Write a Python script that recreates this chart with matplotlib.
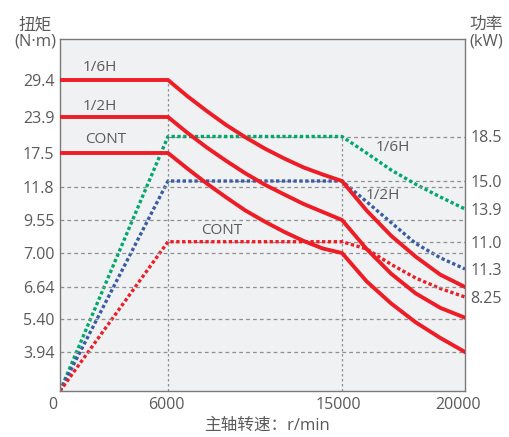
import matplotlib
matplotlib.use('Agg')
import matplotlib.pyplot as plt
import matplotlib.transforms as mtransforms
import numpy as np

# 字体: 西文用 Open Sans, 中文回落到 Noto Sans CJK SC
plt.rcParams['font.family'] = ['Open Sans', 'Noto Sans CJK SC', 'DejaVu Sans']

# ---------------- 数据 ----------------
speed_ticks = [0, 6000, 15000, 20000]
torque_ticks = [3.94, 5.40, 6.64, 7.00, 9.55, 11.8, 17.5, 23.9, 29.4]
torque_tick_labels = ['3.94', '5.40', '6.64', '7.00', '9.55', '11.8', '17.5', '23.9', '29.4']
power_tick_labels = ['18.5', '15.0', '13.9', '11.0', '11.3', '8.25']

# 扭矩曲线 (r/min, N·m)
speed = [0, 6000, 7000, 8000, 9000, 10000, 11000, 12000, 13000, 14000, 15000,
         16000, 17000, 18000, 19000, 20000]
torque_16h = [29.4, 29.4, 27.0, 24.8, 22.5, 20.3, 18.3, 16.6, 15.1, 13.9, 12.8,
              10.2, 8.33, 6.96, 6.77, 6.64]
torque_12h = [23.9, 23.9, 21.1, 18.5, 16.2, 14.1, 12.2, 11.3, 10.65, 10.1, 9.55,
              7.31, 6.78, 6.39, 5.83, 5.45]
torque_cont = [17.5, 17.5, 14.9, 12.4, 11.1, 10.2, 9.43, 8.64, 7.94, 7.35, 7.00,
               6.70, 6.00, 5.25, 4.56, 3.94]

# 功率曲线 (r/min, kW)
speed_p = [0, 6000, 15000, 16000, 17000, 18000, 19000, 20000]
power_16h = [0, 18.5, 18.5, 17.45, 16.37, 15.47, 14.66, 13.9]
power_12h = [0, 15.0, 15.0, 14.13, 13.25, 12.37, 11.77, 11.3]
power_cont = [0, 11.0, 11.0, 10.64, 9.87, 9.19, 8.67, 8.25]

# ---------------- 刻度(示意图, 非线性) ----------------
x_knots = [0, 6000, 15000, 20000]
x_pos = [0, 108, 282, 405]
y_knots = [0, 3.94, 5.40, 6.64, 7.00, 9.55, 11.8, 17.5, 23.9, 29.4, 35.0]
y_pos = [0, 39, 72, 104, 138, 171, 204, 238, 274, 311, 352.5]
p_tick_pos = [254.5, 210, 182, 149.3, 122, 94]   # 右轴标签位置
y_top = 352.5

gray = '#5a5a5a'
grid_c = '#8f8f8f'
red = '#ee1d25'
green = '#00a86a'
blue = '#3a5ca6'

fig = plt.figure(figsize=(5.09, 4.37), dpi=100)
ax2 = fig.add_axes([60 / 509, 46 / 437, 405 / 509, y_top / 437])
ax = ax2.twinx()
ax.set_zorder(ax2.get_zorder() + 1)
ax.patch.set_visible(False)
ax2.set_facecolor('#f0f1f3')

ax2.set_xscale('function', functions=(lambda v: np.interp(v, x_knots, x_pos),
                                      lambda p: np.interp(p, x_pos, x_knots)))
ax.set_yscale('function', functions=(lambda v: np.interp(v, y_knots, y_pos),
                                     lambda p: np.interp(p, y_pos, y_knots)))
ax2.set_xlim(0, 20000)
ax.set_ylim(0, 35.0)
ax2.set_ylim(0, y_top)

# 扭矩在左, 功率在右
ax.yaxis.tick_left()
ax2.yaxis.tick_right()

# 网格线
for t in torque_ticks[:6]:
    ax.axhline(t, color=grid_c, lw=0.9, ls=(0, (3, 2.5)), zorder=1)
ax.vlines(6000, 0, 29.4, color=grid_c, lw=0.9, ls=(0, (2, 2)), zorder=1)


def p_height(p, end_label, flat_label):
    # 每条功率曲线按其右轴标签位置换算
    lab = [float(s) for s in power_tick_labels]
    h_end = p_tick_pos[lab.index(end_label)]
    h_flat = p_tick_pos[lab.index(flat_label)]
    return np.interp(p, [0, end_label, flat_label], [0, h_end, h_flat])


for lbl in ['18.5', '15.0', '11.0']:
    h = p_tick_pos[power_tick_labels.index(lbl)]
    ax2.hlines(h, 6000, 20000, color=grid_c, lw=0.9, ls=(0, (3, 2.5)), zorder=1)
ax2.vlines(15000, 0, p_tick_pos[0], color=grid_c, lw=0.9, ls=(0, (2, 2)), zorder=1)

dot = (0, (1.0, 0.75))
ax2.plot(speed_p, p_height(power_16h, 13.9, 18.5), color=green, lw=2.4, ls=dot, dash_capstyle='butt', zorder=3)
ax2.plot(speed_p, p_height(power_12h, 11.3, 15.0), color=blue, lw=2.4, ls=dot, dash_capstyle='butt', zorder=3)
ax2.plot(speed_p, p_height(power_cont, 8.25, 11.0), color=red, lw=2.4, ls=dot, dash_capstyle='butt', zorder=3)

# 扭矩曲线
for tq in [torque_16h, torque_12h, torque_cont]:
    ax.plot(speed, tq, color=red, lw=2.8, solid_joinstyle='miter', zorder=4)

# 刻度
ax2.set_xticks(speed_ticks)
ax2.set_xticklabels([str(s) for s in speed_ticks])
ax.set_yticks(torque_ticks)
ax.set_yticklabels(torque_tick_labels)
ax2.set_yticks(p_tick_pos)
ax2.set_yticklabels(power_tick_labels)
ax.tick_params(axis='y', length=0, labelsize=11.5, labelcolor=gray, pad=4)
ax2.tick_params(axis='both', length=0, labelsize=11.5, labelcolor=gray, pad=4)

# x 标签微调位置
shifts = [-7.5, -1.5, -4, -7]
for lab, dx in zip(ax2.get_xticklabels(), shifts):
    lab.set_transform(lab.get_transform() + mtransforms.ScaledTranslation(dx / 100, 0, fig.dpi_scale_trans))

for s in ax.spines.values():
    s.set_color('#7a7a7a')
    s.set_linewidth(1.0)
for s in ax2.spines.values():
    s.set_visible(False)

# 曲线标注
txt = dict(color=gray, fontsize=11, ha='center', va='center', transform=ax.transAxes)
ax.text(0.0988, 0.919, '1/6H', **txt)
ax.text(0.0988, 0.8085, '1/2H', **txt)
ax.text(0.1123, 0.7121, 'CONT', **txt)
ax.text(0.8222, 0.6894, '1/6H', **txt)
ax.text(0.7975, 0.556, '1/2H', **txt)
ax.text(0.3993, 0.4567, 'CONT', **txt)

# 轴标题
fig.text(35 / 509, 1 - 33 / 437, '扭矩\n(N·m)', ha='center', va='center', color=gray, fontsize=12, linespacing=1.0)
fig.text(486 / 509, 1 - 33 / 437, '功率\n(kW)', ha='center', va='center', color=gray, fontsize=12, linespacing=1.0)
fig.text(267 / 509, 1 - 425.5 / 437, '主轴转速：r/min', ha='center', va='center', color=gray, fontsize=12)

plt.savefig('out.png', dpi=100)
